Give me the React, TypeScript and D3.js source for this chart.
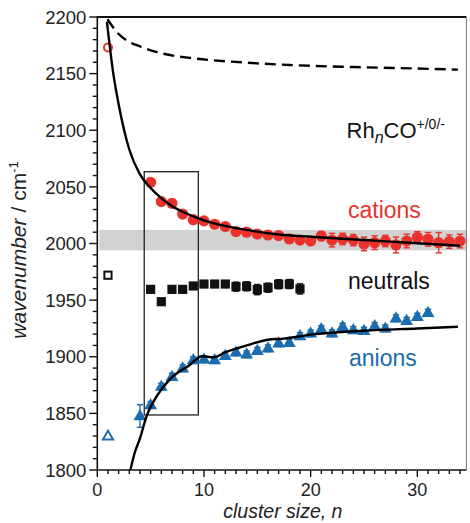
import React from "react";
import * as d3 from "d3";

// Cluster size n and measured CO stretching frequencies (cm^-1)
const cationN = [5, 6, 7, 8, 9, 10, 11, 12, 13, 14, 15, 16, 17, 18, 19, 20, 21, 22, 23, 24, 25, 26, 27, 28, 29, 30, 31, 32, 33, 34];
const cationNu = [2054, 2037, 2035.5, 2026, 2021, 2020, 2017, 2015, 2010.5, 2010, 2008.4, 2007.5, 2007, 2004, 2003, 2002.2, 2006.6, 2003, 2004, 2003, 1999.6, 2000.7, 2002.2, 1998.7, 2002.2, 2005.5, 2003.7, 2000.7, 2001.6, 2002.2];
const cationErr = [1, 1, 1, 1, 1, 1, 1, 1, 1, 1, 1, 1, 1, 1, 1, 1, 4, 6, 5, 5, 6, 6, 5, 7, 6, 5, 6, 9, 6, 6];

const neutralN = [5, 6, 7, 8, 9, 10, 11, 12, 13, 14, 15, 16, 17, 18, 19];
const neutralNu = [1959.5, 1948.6, 1959.5, 1959.5, 1962.5, 1964.2, 1964.2, 1964.2, 1961.9, 1962.2, 1959.3, 1961, 1964, 1964.2, 1959.9];
const neutralErr = [0, 0, 0, 0, 0, 0, 0, 0, 4, 4, 4.5, 4, 4, 4, 4.5];

const anionN = [4, 5, 6, 7, 8, 9, 10, 11, 12, 13, 14, 15, 16, 17, 18, 19, 20, 21, 22, 23, 24, 25, 26, 27, 28, 29, 30, 31];
const anionNu = [1847.7, 1857.4, 1873.6, 1882.4, 1889.8, 1897.1, 1897.7, 1897.1, 1900.9, 1903.9, 1902.2, 1905.3, 1907.5, 1912, 1912.4, 1918.3, 1920.7, 1924.5, 1920.7, 1926.5, 1923.6, 1923, 1927.2, 1925.1, 1934, 1931.8, 1935.4, 1938.9];
const anionErr = [10, 3, 3, 3, 3, 3, 3, 3, 3, 3, 3, 3, 3, 3, 3, 3, 3, 3, 3, 3, 3, 3, 3, 3, 3, 3, 3, 3];

// Monomer (n = 1) values, open symbols
const monoCation = [1, 2173];
const monoNeutral = [1, 1972];
const monoAnion = [1, 1830];

// Model curves
const cationFitN = [0.9, 1.5, 2, 3, 4, 5, 6, 7, 8, 9, 10, 12, 14, 17, 20, 23, 26, 30, 34];
const cationFitNu = [2196, 2150, 2123, 2083, 2061, 2049, 2040, 2033, 2028, 2024, 2020.5, 2015.5, 2012, 2008, 2006, 2004.2, 2002.5, 2000.2, 1998];

const dashFitN = [0.95, 2, 3, 4, 6, 9, 13.5, 18, 24, 30, 33.8];
const dashFitNu = [2198, 2185, 2178, 2174, 2168, 2163.5, 2160, 2157.6, 2155.8, 2154.5, 2153.5];

const anionFitN = [3.1, 3.5, 4, 4.6, 5.7, 6.8, 8.7, 9.8, 10.9, 12, 14, 16, 17.5, 20, 25, 30, 33.8];
const anionFitNu = [1800, 1815, 1828, 1847, 1867, 1880, 1893, 1900.5, 1899.5, 1904, 1910, 1915, 1916, 1919.5, 1923, 1925, 1926.5];

// Shaded range and boxed region
const bandNu = [1994, 2012];
const boxN = [4.4, 9.47];
const boxNu = [1848.6, 2063.4];

const xMajorTicks = [0, 10, 20, 30];
const yMajorTicks = [1800, 1850, 1900, 1950, 2000, 2050, 2100, 2150, 2200];

const RED = "#e8322b";
const BLUE = "#1c6cb0";
const FONT = "'Liberation Sans', Arial, sans-serif";

export default function App() {
  const W = 470;
  const H = 523;
  const x = d3.scaleLinear().domain([0, 34.6]).range([97.3, 466.4]);
  const y = d3.scaleLinear().domain([1800, 2200]).range([470, 17]);
  const [x0, x1] = x.range();
  const [yB, yT] = y.range();

  const line = (ns: number[], vs: number[]) =>
    d3
      .line<number>()
      .x((_, i) => x(ns[i]))
      .y((v) => y(v))
      .curve(d3.curveMonotoneX)(vs) as string;

  const xMinor = d3.range(0, 35, 1).filter((v) => v % 10 !== 0);
  const yMinor = d3.range(1800, 2201, 10).filter((v) => v % 50 !== 0);

  const tri = d3.symbol().type(d3.symbolTriangle).size(72)() as string;

  const errBar = (cx: number, v: number, e: number, color: string, key: string) => {
    if (!e) return null;
    const yt = y(v + e);
    const yb = y(v - e);
    const c = 3.2;
    return (
      <g key={key} stroke={color} strokeWidth={1.4}>
        <line x1={cx} x2={cx} y1={yt} y2={yb} />
        <line x1={cx - c} x2={cx + c} y1={yt} y2={yt} />
        <line x1={cx - c} x2={cx + c} y1={yb} y2={yb} />
      </g>
    );
  };

  return (
    <svg
      width={W}
      height={H}
      style={{ position: "absolute", left: 0, top: 0, background: "#fff" }}
      fontFamily={FONT}
    >
      <defs>
        <clipPath id="plotClip">
          <rect x={x0} y={yT} width={x1 - x0} height={yB - yT} />
        </clipPath>
      </defs>

      {/* shaded band */}
      <rect x={x0 + 2} y={y(bandNu[1])} width={x1 - x0 - 2} height={y(bandNu[0]) - y(bandNu[1])} fill="#d2d2d2" />

      {/* boxed region */}
      <rect
        x={x(boxN[0])}
        y={y(boxNu[1])}
        width={x(boxN[1]) - x(boxN[0])}
        height={y(boxNu[0]) - y(boxNu[1])}
        fill="none"
        stroke="#222"
        strokeWidth={1.3}
      />

      {/* cations */}
      <g>
        {cationN.map((n, i) => errBar(x(n), cationNu[i], cationErr[i], RED, "ce" + i))}
        {cationN.map((n, i) => (
          <circle key={"c" + i} cx={x(n)} cy={y(cationNu[i])} r={5.6} fill={RED} />
        ))}
        <circle cx={x(monoCation[0])} cy={y(monoCation[1])} r={4} fill="none" stroke={RED} strokeWidth={2} />
      </g>

      {/* neutrals */}
      <g>
        {neutralN.map((n, i) => errBar(x(n), neutralNu[i], neutralErr[i], "#111", "ne" + i))}
        {neutralN.map((n, i) => (
          <rect key={"n" + i} x={x(n) - 4.6} y={y(neutralNu[i]) - 4.6} width={9.2} height={9.2} fill="#111" />
        ))}
        <rect
          x={x(monoNeutral[0]) - 3.6}
          y={y(monoNeutral[1]) - 3.6}
          width={7.2}
          height={7.2}
          fill="none"
          stroke="#111"
          strokeWidth={2}
        />
      </g>

      {/* anions */}
      <g>
        {anionN.map((n, i) => errBar(x(n), anionNu[i], anionErr[i], BLUE, "ae" + i))}
        {anionN.map((n, i) => (
          <path key={"a" + i} d={tri} transform={`translate(${x(n)},${y(anionNu[i]) + 0.5})`} fill={BLUE} />
        ))}
        <path
          d={d3.symbol().type(d3.symbolTriangle).size(45)() as string}
          transform={`translate(${x(monoAnion[0])},${y(monoAnion[1]) + 0.5})`}
          fill="none"
          stroke={BLUE}
          strokeWidth={2}
        />
      </g>

      {/* model curves */}
      <g clipPath="url(#plotClip)" fill="none" stroke="#000" strokeWidth={2.4}>
        <path d={line(cationFitN, cationFitNu)} />
        <path d={line(anionFitN, anionFitNu)} />
        <path d={line(dashFitN, dashFitNu)} strokeDasharray="11 6" />
      </g>

      {/* frame */}
      <line x1={x0} x2={x1} y1={yT} y2={yT} stroke="#111" strokeWidth={2} />
      <line x1={x1} x2={x1} y1={yT} y2={yB} stroke="#777" strokeWidth={1} />
      <line x1={x0} x2={x0} y1={yT - 1} y2={yB} stroke="#111" strokeWidth={1.6} />
      <line x1={x0} x2={x1} y1={yB} y2={yB} stroke="#111" strokeWidth={1.6} />

      {/* y ticks */}
      <g stroke="#111" strokeWidth={1.4}>
        {yMajorTicks.map((v) => (
          <line key={"ym" + v} x1={x0 - 8} x2={x0} y1={y(v)} y2={y(v)} />
        ))}
        {yMinor.map((v) => (
          <line key={"yn" + v} x1={x0 - 4.5} x2={x0} y1={y(v)} y2={y(v)} />
        ))}
      </g>
      <g fontSize={18.5} fill="#222" textAnchor="end">
        {yMajorTicks.map((v) => (
          <text key={"yl" + v} x={x0 - 11} y={y(v)} dy="0.36em">
            {v}
          </text>
        ))}
      </g>

      {/* x ticks */}
      <g stroke="#111" strokeWidth={1.4}>
        {xMajorTicks.map((v) => (
          <line key={"xm" + v} x1={x(v)} x2={x(v)} y1={yB} y2={yB + 7} />
        ))}
        {xMinor.map((v) => (
          <line key={"xn" + v} x1={x(v)} x2={x(v)} y1={yB} y2={yB + 4} />
        ))}
      </g>
      <g fontSize={18} fill="#222" textAnchor="middle">
        {xMajorTicks.map((v) => (
          <text key={"xl" + v} x={x(v)} y={496}>
            {v}
          </text>
        ))}
      </g>

      {/* axis titles */}
      <text x={(x0 + x1) / 2 + 1} y={518} fontSize={19.5} fontStyle="italic" textAnchor="middle" fill="#222">
        cluster size, n
      </text>
      <text transform="translate(26,250) rotate(-90)" fontSize={21} textAnchor="middle" fill="#222">
        <tspan fontStyle="italic">wavenumber</tspan>
        <tspan dx={6}>/ cm</tspan>
        <tspan fontSize={13} dy={-8}>
          -1
        </tspan>
      </text>

      {/* series labels */}
      <text x={346.5} y={138} fontSize={22} fill="#111">
        Rh
        <tspan fontStyle="italic" fontSize={16} dy={5}>
          n
        </tspan>
        <tspan dy={-5}>CO</tspan>
        <tspan fontSize={14} dy={-9}>
          +/0/-
        </tspan>
      </text>
      <text x={348} y={218} fontSize={23} fill={RED}>
        cations
      </text>
      <text x={348} y={289} fontSize={23} fill="#111">
        neutrals
      </text>
      <text x={349} y={366} fontSize={23} fill={BLUE}>
        anions
      </text>
    </svg>
  );
}
